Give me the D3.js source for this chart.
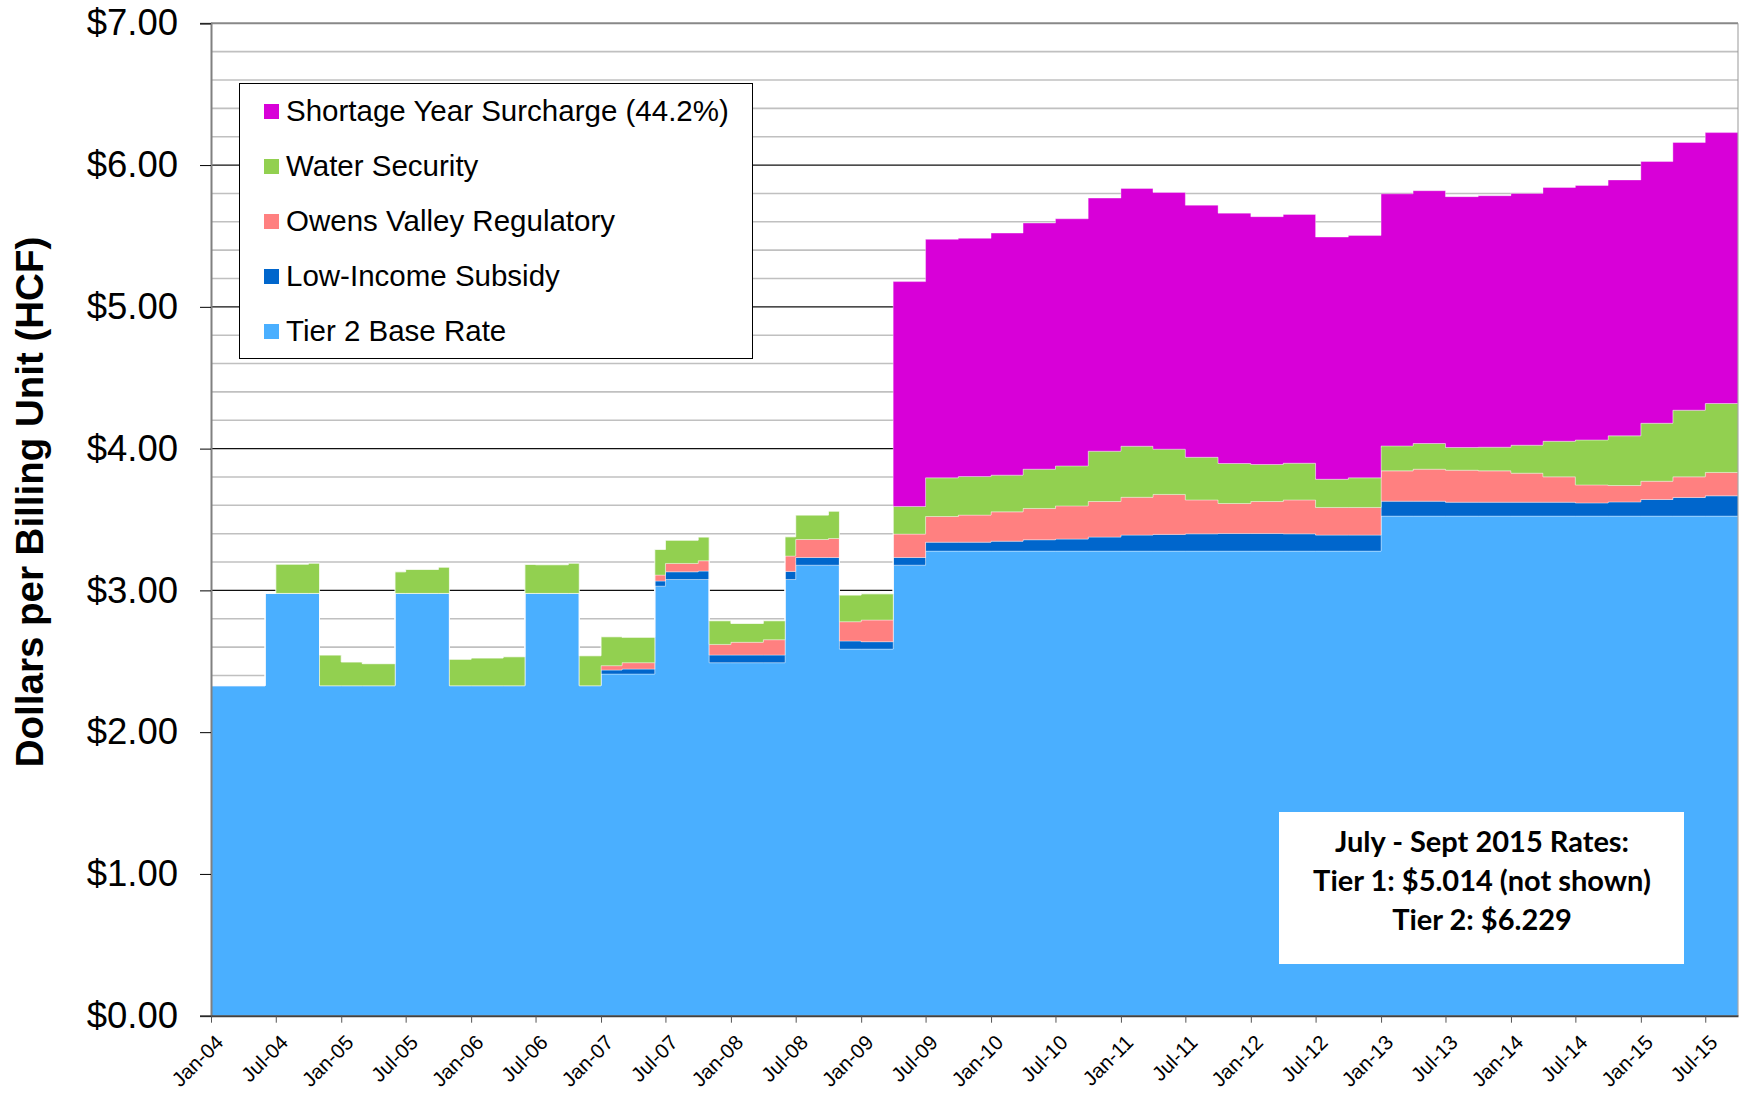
<!DOCTYPE html>
<html>
<head>
<meta charset="utf-8">
<script src="https://cdn.jsdelivr.net/npm/d3@7"></script>
<style>
  body { margin: 0; background: #fff; }
  svg { display: block; font-family: "Liberation Sans", Arial, sans-serif; }
</style>
</head>
<body>
<div id="chart"></div>
<script>
// month where each rate step starts (last entry is where the chart ends)
const stepStarts = [
    "2004-01", "2004-06", "2004-07", "2004-10", "2004-11", "2005-01", "2005-03", "2005-06",
    "2005-07", "2005-10", "2005-11", "2006-01", "2006-04", "2006-06", "2006-07", "2006-10",
    "2006-11", "2007-01", "2007-03", "2007-06", "2007-07", "2007-10", "2007-11", "2008-01",
    "2008-04", "2008-06", "2008-07", "2008-10", "2008-11", "2009-01", "2009-04", "2009-07",
    "2009-10", "2010-01", "2010-04", "2010-07", "2010-10", "2011-01", "2011-04", "2011-07",
    "2011-10", "2012-01", "2012-04", "2012-07", "2012-10", "2013-01", "2013-04", "2013-07",
    "2013-10", "2014-01", "2014-04", "2014-07", "2014-10", "2015-01", "2015-04", "2015-07"
];
const endMonth = "2015-10";

const baseRate = [
    2.328, 2.979, 2.979, 2.979, 2.328, 2.328, 2.328, 2.979,
    2.979, 2.979, 2.328, 2.328, 2.328, 2.979, 2.979, 2.979,
    2.328, 2.410, 2.410, 3.030, 3.077, 3.077, 2.490, 2.490,
    2.490, 3.077, 3.178, 3.178, 2.586, 2.586, 3.178, 3.277,
    3.277, 3.277, 3.277, 3.277, 3.277, 3.277, 3.277, 3.277,
    3.277, 3.277, 3.277, 3.277, 3.277, 3.524, 3.524, 3.524,
    3.524, 3.524, 3.524, 3.524, 3.524, 3.524, 3.524, 3.524
];
const lowIncome = [
    0, 0, 0, 0, 0, 0, 0, 0,
    0, 0, 0, 0, 0, 0, 0, 0,
    0, 0.028, 0.035, 0.036, 0.054, 0.059, 0.054, 0.054,
    0.054, 0.057, 0.054, 0.054, 0.057, 0.052, 0.054, 0.063,
    0.063, 0.070, 0.080, 0.085, 0.099, 0.113, 0.118, 0.122,
    0.124, 0.124, 0.122, 0.113, 0.113, 0.105, 0.105, 0.098,
    0.098, 0.098, 0.098, 0.093, 0.100, 0.117, 0.131, 0.143
];
const owensValley = [
    0, 0, 0, 0, 0, 0, 0, 0,
    0, 0, 0, 0, 0, 0, 0, 0,
    0, 0.031, 0.045, 0.042, 0.059, 0.073, 0.075, 0.090,
    0.108, 0.108, 0.127, 0.134, 0.136, 0.153, 0.165, 0.181,
    0.191, 0.207, 0.221, 0.234, 0.251, 0.267, 0.282, 0.239,
    0.212, 0.226, 0.239, 0.195, 0.195, 0.214, 0.226, 0.226,
    0.221, 0.205, 0.179, 0.127, 0.116, 0.129, 0.146, 0.165
];
const waterSecurity = [
    0, 0, 0.206, 0.213, 0.216, 0.167, 0.155, 0.152,
    0.169, 0.185, 0.186, 0.195, 0.204, 0.204, 0.202, 0.213,
    0.211, 0.204, 0.179, 0.181, 0.164, 0.167, 0.167, 0.133,
    0.134, 0.136, 0.172, 0.193, 0.188, 0.185, 0.195, 0.273,
    0.272, 0.259, 0.277, 0.282, 0.355, 0.360, 0.319, 0.301,
    0.282, 0.261, 0.259, 0.199, 0.209, 0.176, 0.181, 0.160,
    0.167, 0.197, 0.251, 0.317, 0.350, 0.409, 0.470, 0.486
];
const surcharge = [
    0, 0, 0, 0, 0, 0, 0, 0,
    0, 0, 0, 0, 0, 0, 0, 0,
    0, 0, 0, 0, 0, 0, 0, 0,
    0, 0, 0, 0, 0, 0, 1.586, 1.682,
    1.680, 1.707, 1.736, 1.743, 1.785, 1.818, 1.811, 1.778,
    1.766, 1.748, 1.755, 1.708, 1.710, 1.778, 1.783, 1.769,
    1.774, 1.776, 1.790, 1.795, 1.805, 1.846, 1.888, 1.911
];

const seriesKeys = ["base", "low", "owens", "water", "surcharge"];
const seriesNames = ["Tier 2 Base Rate", "Low-Income Subsidy", "Owens Valley Regulatory",
    "Water Security", "Shortage Year Surcharge (44.2%)"];
const seriesColors = ["#4aafff", "#0066cc", "#ff8080", "#92d050", "#d800d8"];

const yTicks = [0, 1, 2, 3, 4, 5, 6, 7];
const noteLines = ["July - Sept 2015 Rates:", "Tier 1: $5.014 (not shown)", "Tier 2: $6.229"];

const W = 1739, H = 1094;
const plot = { left: 211, right: 1738, top: 23.3, bottom: 1015.7 };

const parseMonth = d3.timeParse("%Y-%m");

const rows = stepStarts.map((m, i) => ({
    date: parseMonth(m),
    base: baseRate[i], low: lowIncome[i], owens: owensValley[i],
    water: waterSecurity[i], surcharge: surcharge[i]
}));
// closing point so the last step is drawn to the chart edge
rows.push(Object.assign({}, rows[rows.length - 1], { date: parseMonth(endMonth) }));

const svg = d3.select("#chart").append("svg")
    .attr("width", W)
    .attr("height", H);

const x = d3.scaleTime()
    .domain([parseMonth("2004-01"), parseMonth(endMonth)])
    .range([plot.left, plot.right]);

const y = d3.scaleLinear()
    .domain([0, 7])
    .range([plot.bottom, plot.top]);

// gridlines every 20 cents, darker at each dollar
const grid = d3.range(0.2, 7, 0.2).filter(v => Math.abs(v - Math.round(v)) > 0.01);
svg.append("g").selectAll("line")
    .data(grid)
    .enter().append("line")
    .attr("x1", plot.left).attr("x2", plot.right)
    .attr("y1", d => y(d)).attr("y2", d => y(d))
    .attr("stroke", "#c0c0c0")
    .attr("stroke-width", 1.6);

svg.append("g").selectAll("line")
    .data(yTicks.filter(v => v > 0 && v < 7))
    .enter().append("line")
    .attr("x1", plot.left).attr("x2", plot.right)
    .attr("y1", d => y(d)).attr("y2", d => y(d))
    .attr("stroke", "#111")
    .attr("stroke-width", 1.2);

// stacked step areas
const stack = d3.stack().keys(seriesKeys);
const layers = stack(rows);

const area = d3.area()
    .curve(d3.curveStepAfter)
    .x(d => x(d.data.date))
    .y0(d => y(d[0]))
    .y1(d => y(d[1]));

svg.append("g").selectAll("path")
    .data(layers)
    .enter().append("path")
    .attr("d", area)
    .attr("fill", (d, i) => seriesColors[i])
    .attr("stroke", "rgba(255,255,255,0.35)")
    .attr("stroke-width", 1);

// plot frame top and right
svg.append("line")
    .attr("x1", plot.left).attr("x2", plot.right)
    .attr("y1", y(7)).attr("y2", y(7))
    .attr("stroke", "#888").attr("stroke-width", 2);
svg.append("line")
    .attr("x1", plot.right).attr("x2", plot.right)
    .attr("y1", y(7)).attr("y2", y(0))
    .attr("stroke", "#999").attr("stroke-width", 1);

// Y axis
const yAxis = svg.append("g")
    .attr("transform", `translate(${plot.left},0)`)
    .call(d3.axisLeft(y).tickValues(yTicks).tickSize(11).tickPadding(22)
        .tickFormat(d => "$" + d3.format(".2f")(d)));
yAxis.select(".domain").attr("stroke", "#808080").attr("stroke-width", 2);
yAxis.selectAll(".tick line").attr("stroke", "#000");
yAxis.selectAll(".tick text")
    .style("font-size", "36.5px")
    .attr("fill", "#000");

// X axis
const xTicks = d3.timeMonth.every(6).range(parseMonth("2004-01"), parseMonth(endMonth));
const xAxis = svg.append("g")
    .attr("transform", `translate(0,${plot.bottom})`)
    .call(d3.axisBottom(x).tickValues(xTicks).tickSize(7).tickSizeOuter(0)
        .tickFormat(d3.timeFormat("%b-%y")));
xAxis.select(".domain").attr("stroke", "#404040").attr("stroke-width", 2);
xAxis.selectAll(".tick line").attr("stroke", "#555");
xAxis.selectAll(".tick text")
    .style("font-size", "20.5px")
    .attr("fill", "#000")
    .attr("text-anchor", "end")
    .attr("dy", 0)
    .attr("transform", "translate(6,21) rotate(-45)");

// Y title
svg.append("text")
    .attr("transform", `translate(43,502) rotate(-90)`)
    .attr("text-anchor", "middle")
    .style("font-size", "38.5px")
    .style("font-weight", "bold")
    .text("Dollars per Billing Unit (HCF)");

// Legend
const legend = svg.append("g");
legend.append("rect")
    .attr("x", 239.5).attr("y", 83.5)
    .attr("width", 513).attr("height", 275)
    .attr("fill", "#fff")
    .attr("stroke", "#000")
    .attr("stroke-width", 1);

const legendItems = seriesNames.map((n, i) => ({ name: n, color: seriesColors[i] })).reverse();
const li = legend.selectAll(".item")
    .data(legendItems)
    .enter().append("g")
    .attr("transform", (d, i) => `translate(264,${111.5 + i * 55})`);
li.append("rect")
    .attr("x", 0).attr("y", -7.5)
    .attr("width", 15).attr("height", 15)
    .attr("fill", d => d.color);
li.append("text")
    .attr("x", 22).attr("y", 9)
    .style("font-size", "29.5px")
    .text(d => d.name);

// Rate note box
const note = svg.append("g");
note.append("rect")
    .attr("x", 1279).attr("y", 812)
    .attr("width", 405).attr("height", 152)
    .attr("fill", "#fff");
note.selectAll("text")
    .data(noteLines)
    .enter().append("text")
    .attr("x", 1482)
    .attr("y", (d, i) => 852 + i * 38.8)
    .attr("text-anchor", "middle")
    .style("font-family", "Lato, 'Open Sans', sans-serif")
    .style("font-size", "29px")
    .style("font-weight", "bold")
    .text(d => d);
</script>
</body>
</html>
